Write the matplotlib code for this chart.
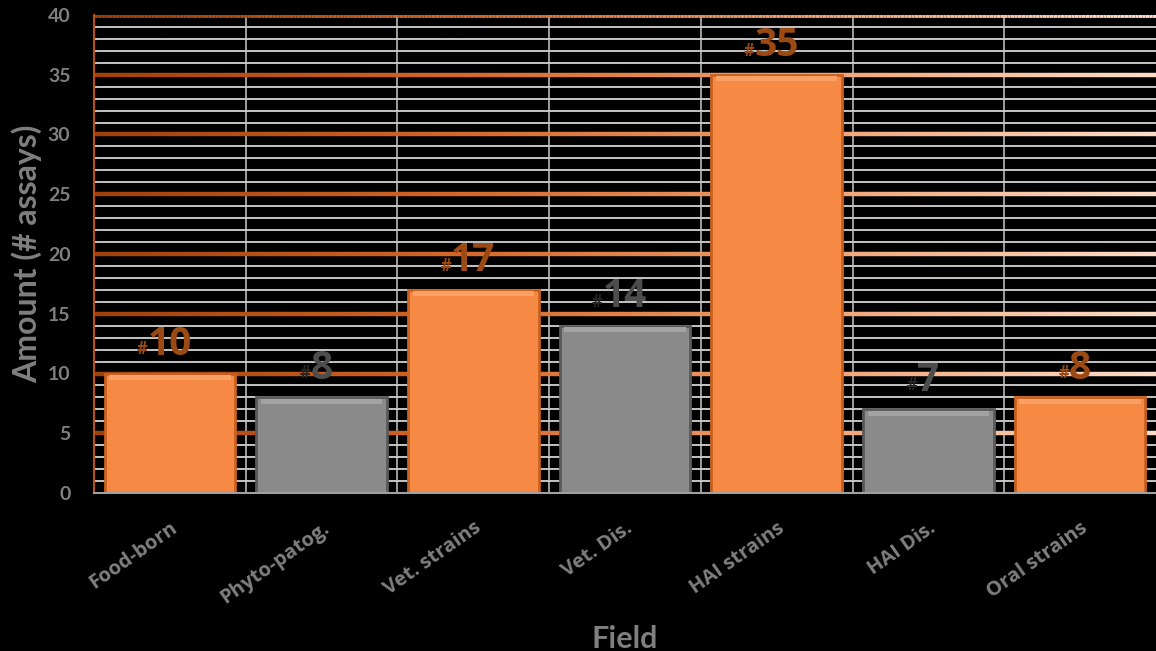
import numpy as np
import matplotlib
matplotlib.use("Agg")
import matplotlib.pyplot as plt
import matplotlib.transforms as mtransforms
from matplotlib.collections import LineCollection
from matplotlib.colors import LinearSegmentedColormap

categories = ["Food-born", "Phyto-patog.", "Vet. strains", "Vet. Dis.",
              "HAI strains", "HAI Dis.", "Oral strains"]
values = [10, 8, 17, 14, 35, 7, 8]
groups = ["orange", "gray", "orange", "gray", "orange", "gray", "orange"]
y_ticks = [0, 5, 10, 15, 20, 25, 30, 35, 40]

bar_face = {"orange": "#f68a44", "gray": "#8a8a8a"}
bar_top = {"orange": "#f9a067", "gray": "#a2a2a2"}
bar_edge = {"orange": "#c8611f", "gray": "#5a5a5a"}
label_col = {"orange": "#9c4a14", "gray": "#4d4d4d"}
hash_col = {"orange": "#9c4a14", "gray": "#262626"}
text_gray = "#7f7f7f"

fig = plt.figure(figsize=(11.56, 6.51), dpi=100, facecolor="black")
ax = fig.add_axes([94 / 1156, 1 - 493 / 651, 1 - 94 / 1156, (493 - 15) / 651])
ax.set_facecolor("black")

n = len(categories)
x = np.arange(n)
ax.set_xlim(-0.5, n - 0.5)
ax.set_ylim(0, 40)

# minor horizontal gridlines
for yv in range(1, 40):
    if yv % 5 != 0:
        ax.axhline(yv, color="#d4d4d4", lw=1.3, zorder=1)
# vertical gridlines at category boundaries
for xv in np.arange(0.5, n - 0.5, 1):
    ax.axvline(xv, color="#c8c8c8", lw=1.1, zorder=1)

# gradient major gridlines
cmap = LinearSegmentedColormap.from_list(
    "og", ["#a0400a", "#d46628", "#f0a070", "#fcdcc6"])
xs = np.linspace(-0.5, n - 0.5, 300)
for yv in y_ticks[1:]:
    segs = [[(xs[i], yv), (xs[i + 1], yv)] for i in range(len(xs) - 1)]
    lc = LineCollection(segs, colors=cmap(np.linspace(0, 1, len(segs))),
                        linewidths=3.2 if yv < 40 else 3.5, zorder=2)
    ax.add_collection(lc)

faces = [bar_face[g] for g in groups]
edges = [bar_edge[g] for g in groups]
vals = np.array(values, dtype=float)
ax.bar(x, vals, width=0.86, color=faces, edgecolor=edges, linewidth=2.0,
       zorder=3)
# bevel highlight on top of each bar
ax.bar(x, np.full(n, 0.45), bottom=vals - 0.55, width=0.80,
       color=[bar_top[g] for g in groups], linewidth=0, zorder=3.5)

for xi, v, g in zip(x, values, groups):
    t = ax.annotate(str(v), xy=(xi, v), xytext=(0, 7), textcoords="offset points",
                    ha="center", va="bottom", fontsize=28, fontweight="bold",
                    color=label_col[g], family="Open Sans", zorder=5)
    ax.annotate("#", xy=(0, 0.14), xycoords=t, xytext=(0, 0),
                textcoords="offset points", ha="right", va="bottom",
                fontsize=12, fontweight="bold", color=hash_col[g],
                family="Open Sans", zorder=5)

ax.set_yticks(y_ticks)
ax.set_yticklabels([str(t) for t in y_ticks], fontsize=14, fontweight="bold",
                   color=text_gray, family="Lato")
ax.set_xticks(x)
ax.set_xticklabels(categories, rotation=35, ha="right", rotation_mode="anchor",
                   fontsize=14.5, fontweight="bold", color=text_gray,
                   family="Open Sans")
offset = mtransforms.ScaledTranslation(-10 / 100, 0, fig.dpi_scale_trans)
for lab in ax.get_xticklabels():
    lab.set_transform(lab.get_transform() + offset)
ax.tick_params(axis="both", length=0)
ax.tick_params(axis="y", pad=17)
ax.tick_params(axis="x", pad=18)

ax.set_ylabel("Amount (# assays)", fontsize=23, fontweight="bold",
              color=text_gray, family="Lato", labelpad=4)
ax.set_xlabel("Field", fontsize=22, fontweight="bold", color=text_gray,
              family="Lato", labelpad=12)

for s in ["top", "right"]:
    ax.spines[s].set_visible(False)
ax.spines["left"].set_color("#b8500f")
ax.spines["left"].set_linewidth(1.5)
ax.spines["bottom"].set_color("#a0a0a0")
ax.spines["bottom"].set_linewidth(1.5)
ax.spines["left"].set_zorder(4)
ax.spines["bottom"].set_zorder(4)

fig.savefig("out.png", dpi=100, facecolor="black")
